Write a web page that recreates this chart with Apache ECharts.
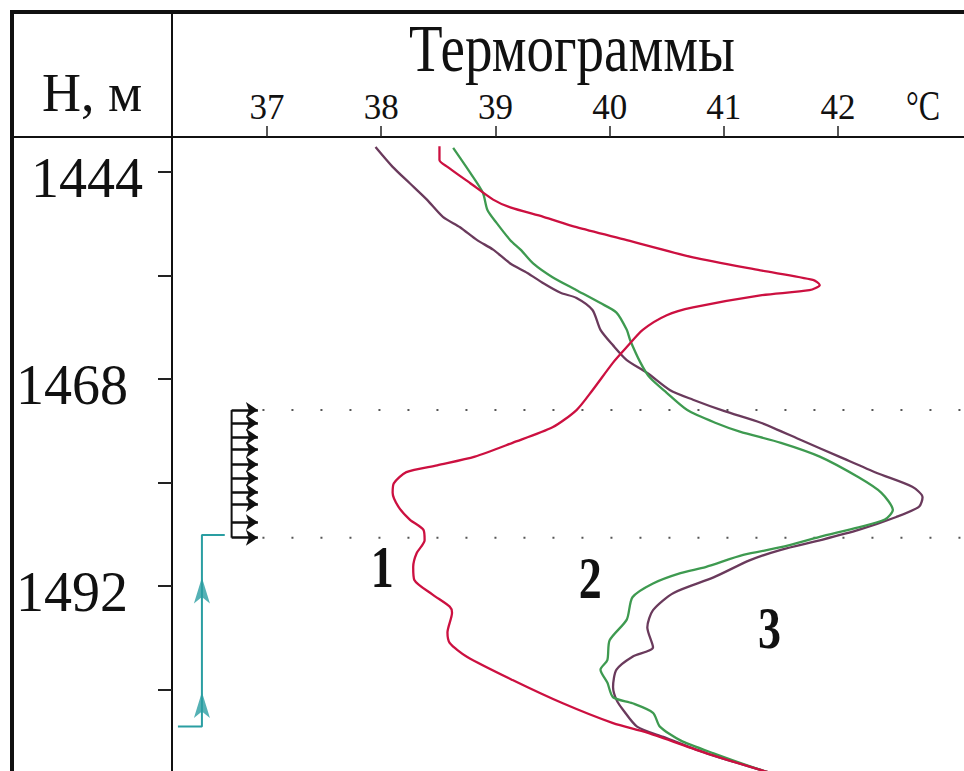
<!DOCTYPE html>
<html><head><meta charset="utf-8">
<script src="https://cdn.jsdelivr.net/npm/echarts@6/dist/echarts.min.js"></script>
<style>html,body{margin:0;padding:0;background:#fff}#c{width:964px;height:771px}</style>
</head><body><div id="c"></div>
<script>
// ---- data ----
const tempTicks = [37, 38, 39, 40, 41, 42];
const depthTicks = [1444, 1456, 1468, 1480, 1492, 1504];
const depthLabels = [1444, 1468, 1492];
const titleText = 'Термограммы';
const depthTitle = 'H, м';
const unitText = '°C';
const curveNames = ['1', '2', '3'];
// [temperature °C, depth m]
const curve1 = [[38.51,1441.0],[38.51,1442.6],[38.58,1443.4],[38.78,1445.3],[38.98,1447.2],[39.13,1448.1],[39.42,1449.2],[39.71,1450.4],[40.15,1451.9],[40.73,1453.9],[41.32,1455.4],[41.78,1456.5],[41.84,1457.1],[41.75,1457.7],[41.32,1458.3],[40.73,1459.7],[40.50,1460.6],[40.29,1462.3],[40.15,1464.3],[40.03,1466.1],[39.85,1469.3],[39.71,1471.6],[39.50,1473.6],[39.15,1475.4],[38.82,1477.0],[38.49,1478.0],[38.22,1478.8],[38.11,1480.1],[38.10,1481.2],[38.15,1482.8],[38.25,1484.3],[38.37,1485.5],[38.38,1486.7],[38.31,1488.2],[38.28,1489.8],[38.29,1491.3],[38.45,1493.0],[38.60,1494.4],[38.62,1495.1],[38.58,1497.4],[38.60,1498.6],[38.75,1500.2],[39.15,1502.9],[39.59,1505.6],[40.03,1507.9],[40.33,1509.0],[40.85,1511.4],[41.34,1513.4],[41.58,1514.3]];
const curve2 = [[38.63,1441.2],[38.78,1444.1],[38.89,1446.4],[38.93,1448.4],[39.01,1449.9],[39.13,1451.9],[39.22,1453.0],[39.33,1454.6],[39.50,1456.2],[39.71,1457.7],[39.92,1459.2],[40.06,1460.3],[40.15,1462.3],[40.18,1463.5],[40.27,1466.1],[40.35,1467.8],[40.50,1469.6],[40.68,1471.6],[40.93,1473.1],[41.14,1474.1],[41.50,1475.4],[41.84,1477.0],[42.18,1479.4],[42.38,1481.2],[42.48,1483.2],[42.41,1484.3],[42.18,1485.2],[41.84,1486.3],[41.50,1487.5],[41.17,1488.4],[40.84,1489.8],[40.62,1490.5],[40.38,1491.7],[40.20,1493.3],[40.15,1495.9],[40.00,1498.3],[39.98,1500.6],[39.92,1501.7],[39.98,1503.2],[40.03,1504.9],[40.20,1505.6],[40.38,1506.7],[40.44,1508.3],[40.62,1509.9],[40.91,1511.4],[41.34,1513.4],[41.58,1514.3]];
const curve3 = [[37.95,1441.1],[38.10,1443.4],[38.25,1445.3],[38.40,1447.2],[38.54,1449.2],[38.69,1450.4],[38.84,1451.9],[38.98,1453.0],[39.13,1454.6],[39.28,1455.7],[39.42,1456.9],[39.57,1458.0],[39.71,1458.6],[39.85,1460.0],[39.92,1462.3],[40.03,1464.1],[40.15,1465.8],[40.33,1467.3],[40.53,1469.3],[40.73,1470.4],[41.00,1471.7],[41.33,1473.1],[41.68,1475.1],[42.01,1477.0],[42.34,1478.9],[42.65,1480.5],[42.74,1481.7],[42.71,1482.8],[42.51,1484.0],[42.18,1485.5],[41.84,1486.7],[41.50,1487.8],[41.23,1489.0],[40.91,1491.0],[40.56,1492.8],[40.38,1494.8],[40.33,1496.8],[40.38,1499.1],[40.20,1500.2],[40.06,1501.7],[40.03,1503.7],[40.06,1505.2],[40.12,1506.4],[40.24,1508.3],[40.47,1509.5],[40.85,1511.4],[41.34,1513.4],[41.58,1514.3]];
const curveLabelPos = [[38.01,1489.8],[39.83,1491.0],[41.40,1496.9]];
// perforation interval and inflow marks
const perfDepths = [1471.6,1473.1,1474.7,1476.2,1477.9,1479.5,1481.1,1482.5,1484.6,1486.4];
const perfTemp = [36.69, 36.92];
const dottedDepths = [1471.6, 1486.4];
const dottedTemp = [36.96, 43.2];
const flowPath = [[36.22,1508.3],[36.43,1508.3],[36.43,1486.1],[36.63,1486.1]];
const flowArrows = [[36.43,1491.0],[36.43,1504.3]];

const xMin = 36.168, xMax = 43.103, yMin = 1439.94, yMax = 1513.45;
const colors = ['#cc1040', '#3e9a50', '#6a3a5c'];

const chart = echarts.init(document.getElementById('c'), null, {renderer: 'svg'});
const serifF = 'Liberation Serif, Times New Roman, serif';

const series = [];
// dotted horizontal lines
dottedDepths.forEach(d => series.push({
  type: 'line', silent: true, symbol: 'none', z: 1,
  data: [[dottedTemp[0], d], [dottedTemp[1], d]],
  lineStyle: {color: '#555', width: 2, type: [2, 27]}
}));
// perforation bar
series.push({type: 'line', symbol: 'none', silent: true,
  data: [[perfTemp[0], perfDepths[0]], [perfTemp[0], perfDepths[perfDepths.length - 1]]],
  lineStyle: {color: '#111', width: 2}});
series.push({type: 'lines', coordinateSystem: 'cartesian2d', silent: true,
  symbol: ['none', 'arrow'], symbolSize: 12,
  data: perfDepths.map(d => ({coords: [[perfTemp[0], d], [perfTemp[1], d]]})),
  lineStyle: {color: '#111', width: 2.5, opacity: 1}});
// flow path
series.push({type: 'line', symbol: 'none', silent: true, data: flowPath,
  lineStyle: {color: '#2a9ea2', width: 2}});
series.push({type: 'scatter', silent: true, symbol: 'arrow', symbolSize: [12, 26],
  data: flowArrows, itemStyle: {color: '#2a9ea2'}});
// thermograms (3 drawn first, 1 on top)
[[curve3, 2], [curve2, 1], [curve1, 0]].forEach(([c, i]) => series.push({
  type: 'line', name: curveNames[i], data: c, symbol: 'none', smooth: 0.25,
  lineStyle: {color: colors[i], width: 2.3}, z: 3
}));

chart.setOption({
  animation: false,
  backgroundColor: '#fff',
  grid: {left: 172, top: 137, width: 792, height: 634},
  xAxis: {
    type: 'value', position: 'top', min: xMin, max: xMax,
    axisLine: {show: true, onZero: false, lineStyle: {color: '#111', width: 2}},
    axisTick: {show: true, customValues: tempTicks, length: 11, lineStyle: {color: '#222', width: 1.5}},
    axisLabel: {customValues: tempTicks, margin: 12, fontFamily: serifF, fontSize: 35, color: '#111'},
    splitLine: {show: false}
  },
  yAxis: {
    type: 'value', inverse: true, min: yMin, max: yMax,
    axisLine: {show: true, onZero: false, lineStyle: {color: '#111', width: 2}},
    axisTick: {show: true, customValues: depthTicks, length: 14, lineStyle: {color: '#222', width: 2}},
    axisLabel: {
      customValues: depthLabels, margin: 29, color: '#111',
      formatter: v => v === depthLabels[0] ? '{a|' + v + '}' : '{b|' + v + '}',
      rich: {
        a: {fontFamily: serifF, fontSize: 56, color: '#111', padding: [12, 0, 0, 0]},
        b: {fontFamily: serifF, fontSize: 56, color: '#111', padding: [12, 15, 0, 0]}
      }
    },
    splitLine: {show: false}
  },
  series: series
});

const graphics = [
  {type: 'line', shape: {x1: 12, y1: 10, x2: 12, y2: 771}, style: {stroke: '#111', lineWidth: 4}},
  {type: 'line', shape: {x1: 10, y1: 12, x2: 964, y2: 12}, style: {stroke: '#111', lineWidth: 4}},
  {type: 'line', shape: {x1: 172, y1: 12, x2: 172, y2: 137}, style: {stroke: '#111', lineWidth: 2}},
  {type: 'line', shape: {x1: 12, y1: 137, x2: 172, y2: 137}, style: {stroke: '#111', lineWidth: 2}},
  {type: 'text', x: 92, y: 93, style: {text: depthTitle, fontFamily: serifF, fontSize: 54, fill: '#111', align: 'center', verticalAlign: 'middle'}},
  {type: 'text', x: 572, y: 48, scaleY: 1.22, style: {text: titleText, fontFamily: serifF, fontSize: 55, fill: '#111', align: 'center', verticalAlign: 'middle'}},
  {type: 'text', x: 923, y: 106, scaleY: 1.3, style: {text: unitText, fontFamily: serifF, fontSize: 32, fill: '#111', align: 'center', verticalAlign: 'middle'}}
];
curveLabelPos.forEach((p, i) => {
  const px = chart.convertToPixel({gridIndex: 0}, p);
  graphics.push({type: 'text', x: px[0], y: px[1], scaleY: 1.3,
    style: {text: curveNames[i], fontFamily: serifF, fontWeight: 'bold', fontSize: 46, fill: '#111', align: 'center', verticalAlign: 'middle'}});
});
chart.setOption({graphic: graphics});
</script>
</body></html>
